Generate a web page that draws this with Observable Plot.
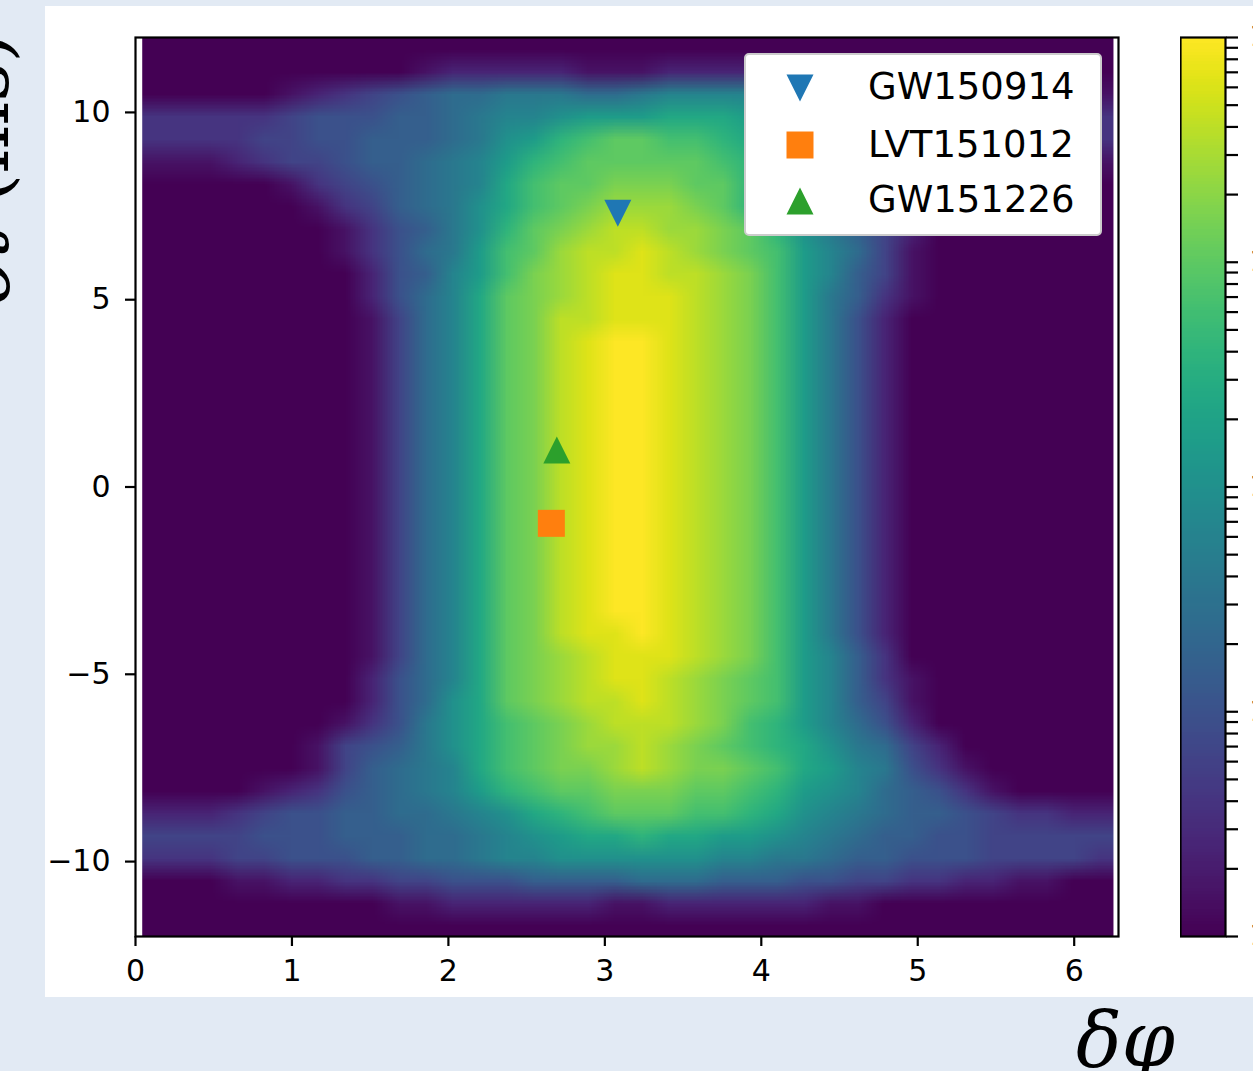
<!DOCTYPE html>
<html>
<head>
<meta charset="utf-8">
<script src="https://cdn.jsdelivr.net/npm/d3@7"></script>
<script src="https://cdn.jsdelivr.net/npm/@observablehq/plot@0.6"></script>
<style>
  html, body { margin: 0; padding: 0; }
  body { width: 1253px; height: 1071px; overflow: hidden; background: #e2eaf4; position: relative; }
  #fig { position: absolute; left: 45px; top: 6px; width: 1208px; height: 991px; background: #fff; overflow: hidden; }
  #main, #cbar { position: absolute; top: 0; }
  #main { left: 0; width: 1208px; }
  #cbar { left: 1135px; width: 118px; }
  #fig svg { max-width: none !important; }
  #legend { position: absolute; left: 699px; top: 47px; width: 358px; height: 183px; box-sizing: border-box;
            border: 2px solid #cccccc; border-radius: 5px; background: #fff; }
  #labels { position: absolute; left: 0; top: 0; pointer-events: none; }
</style>
</head>
<body>
<div id="fig"><div id="main"></div><div id="cbar"></div><div id="legend"></div></div>
<svg id="labels" width="1253" height="1071"></svg>
<script>
// ---------------- data ----------------
// Heat-map grid (36 columns in δφ × 40 rows in δt, top row = δt 12 ms).
// Each character is a level 0..20 (base 36); density = 10^(-4 + level/5).
const gridWidth = 36;
const gridHeight = 40;
const phiExtent = [0.043, 6.251];
const dtExtent = [12, -12];
const levelRows = [
  "000000000000000000000000000000000000",
  "000000000012222211122222210000000000",
  "000001234567788877899998765432100001",
  "333334555667899abbbcccb9876554443333",
  "3333445566678abdeffeedca876655444333",
  "1112344566789bdefffffedb987655432111",
  "0000013456789ceffgggffda876543100000",
  "000000134678acefghhhgfdb976431000000",
  "000000013568adfghiihhgfda86420000000",
  "000000013578befhiijihgfeb97410000000",
  "000000002569beghijjiihgeb96410000000",
  "000000002579cfghijjjihgeb86310000000",
  "000000001479cfgiijjjihgeb85200000000",
  "000000001479cfgijkkjihgeb85200000000",
  "000000001479cfgijkkjihgeb85200000000",
  "000000001479cfgijkkjihgeb85200000000",
  "000000001479cfgijkkjihgeb85200000000",
  "000000001479cfgijkkjihgeb85200000000",
  "000000001479cfgijkkjihgeb85200000000",
  "000000001479cfgijkkjihgeb85200000000",
  "000000001479cfgijkkjihgeb85200000000",
  "000000001479cfgijkkjihgeb85200000000",
  "000000001479cfgijkkjihgeb85200000000",
  "000000001479cfgijkkjihgeb85200000000",
  "000000001479cfgijkkjihgeb85200000000",
  "000000001479cfgijkkjihgeb85200000000",
  "000000001479cfgijjkjihgeb85200000000",
  "000000001479cfghijjjihgeb96300000000",
  "000000002579cfghijjihgfeb96310000000",
  "00000000257acfghiijihgfeb96410000000",
  "00000001358acefghiiihgedb97520000000",
  "00000014568acefghhihgfedca8742000000",
  "000000146789cefgghihggfecb9853100000",
  "000012356789bdeffgggffedba9765310000",
  "2223455667789acdefffeedca98766543322",
  "44445556667789abccdccbba987665544444",
  "333445556677899aaaaaa998876655544443",
  "000112233445556666777666554433221100",
  "000000000112222221122222211000000000",
  "000000000000000000000000000000000000"
];

const xTicks = [0, 1, 2, 3, 4, 5, 6];
const yTicks = [-10, -5, 0, 5, 10];

const eventNames = ["GW150914", "LVT151012", "GW151226"];
const eventPhi = [3.083, 2.658, 2.693];
const eventDt = [7.31, -0.97, 0.99];
const eventColors = ["#1f77b4", "#ff7f0e", "#2ca02c"];
const eventSymbols = ["triangle-down", "square", "triangle-up"];

const cbMajor = [1e-4, 1e-3, 1e-2, 1e-1, 1];
const cbMajorLabels = ["10\u207B\u2074", "10\u207B\u00B3", "10\u207B\u00B2", "10\u207B\u00B9", "10\u2070"];

// ---------------- build ----------------
const density = levelRows.flatMap(r => Array.from(r, c => 10 ** (-4 + parseInt(c, 36) / 5)));

const colorOpts = {type: "log", domain: [1e-4, 1], scheme: "viridis", clamp: true};

const triangleDown = {draw(ctx, size) { const r = Math.sqrt(size / Math.PI); ctx.moveTo(0, r); ctx.lineTo(-r, -r); ctx.lineTo(r, -r); ctx.closePath(); }};
const triangleUp = {draw(ctx, size) { const r = Math.sqrt(size / Math.PI); ctx.moveTo(0, -r); ctx.lineTo(-r, r); ctx.lineTo(r, r); ctx.closePath(); }};
const squareSym = {draw(ctx, size) { const r = Math.sqrt(size / Math.PI); ctx.rect(-r, -r, 2 * r, 2 * r); }};
const symbolMap = {"triangle-down": triangleDown, "square": squareSym, "triangle-up": triangleUp};

const events = eventNames.map((name, i) => ({name, phi: eventPhi[i], dt: eventDt[i], color: eventColors[i], symbol: eventSymbols[i]}));

const minusFmt = d => (d < 0 ? "\u2212" + Math.abs(d) : String(d));

const main = Plot.plot({
  width: 1208, height: 991,
  marginLeft: 90, marginRight: 135, marginTop: 31, marginBottom: 61,
  style: {fontFamily: "DejaVu Sans", color: "black", background: "transparent", maxWidth: "none"},
  x: {domain: [0, 2 * Math.PI]},
  y: {domain: [-12, 12]},
  color: colorOpts,
  marks: [
    Plot.raster(density, {width: gridWidth, height: gridHeight,
      x1: phiExtent[0], x2: phiExtent[1], y1: dtExtent[0], y2: dtExtent[1], fill: d => d}),
    ...events.map(e => Plot.dot([e], {x: "phi", y: "dt", r: 13.5, fill: e.color, stroke: "none", symbol: symbolMap[e.symbol]})),
    Plot.frame({stroke: "black", strokeWidth: 2.2}),
    Plot.axisX({ticks: xTicks, tickSize: 10, tickPadding: 13, fontSize: 30, strokeWidth: 2.2, label: null, tickFormat: d => String(d)}),
    Plot.axisY({ticks: yTicks, tickSize: 10, tickPadding: 15, fontSize: 30, strokeWidth: 2.2, label: null, tickFormat: minusFmt})
  ]
});
document.getElementById("main").appendChild(main);

// colour bar
const cbStops = d3.range(300).map(i => ({lo: 10 ** (-4 + 4 * i / 300), hi: 10 ** (-4 + 4 * (i + 1) / 300)}));
const cbTicks = d3.range(-4, 0).flatMap(e => d3.range(1, 10).map(k => k * 10 ** e)).concat([1]);
const cbFmt = d => {
  const i = cbMajor.findIndex(m => Math.abs(Math.log10(d) - Math.log10(m)) < 1e-9);
  return i >= 0 ? cbMajorLabels[i] : "";
};
const cbar = Plot.plot({
  width: 118, height: 991,
  marginLeft: 0, marginRight: 73, marginTop: 31, marginBottom: 61,
  style: {fontFamily: "DejaVu Sans", color: "black", background: "transparent", maxWidth: "none"},
  x: {domain: [0, 1], axis: null},
  y: {type: "log", domain: [1e-4, 1]},
  color: colorOpts,
  marks: [
    Plot.rect(cbStops, {x1: 0, x2: 1, y1: "lo", y2: "hi", fill: d => Math.sqrt(d.lo * d.hi), shapeRendering: "crispEdges"}),
    Plot.frame({stroke: "black", strokeWidth: 2.2}),
    Plot.axisY({anchor: "right", ticks: cbTicks, tickFormat: cbFmt, tickSize: 12, tickPadding: 12, fontSize: 28, strokeWidth: 2.2, label: null})
  ]
});
document.getElementById("cbar").appendChild(cbar);

// legend
const legendRowY = [33, 90, 146];
const legendBase = [44, 102, 157];
const legendSvg = d3.create("svg").attr("width", 354).attr("height", 179);
events.forEach((e, i) => {
  const p = d3.path();
  symbolMap[e.symbol].draw(p, Math.PI * 13.5 * 13.5);
  legendSvg.append("path").attr("d", p.toString()).attr("fill", e.color)
    .attr("transform", `translate(54,${legendRowY[i]})`);
  legendSvg.append("text").attr("x", 122).attr("y", legendBase[i])
    .attr("font-family", "DejaVu Sans").attr("font-size", 37).attr("fill", "black").text(e.name);
});
document.getElementById("legend").appendChild(legendSvg.node());

// outer axis labels (page elements)
const labels = d3.select("#labels");
labels.append("text").attr("x", 1076).attr("y", 1066)
  .attr("font-family", "DejaVu Serif").attr("font-style", "italic").attr("font-size", 76).attr("fill", "black")
  .text("δφ");
const yl = labels.append("text").attr("transform", "translate(8,33) rotate(-90)").attr("text-anchor", "end")
  .attr("font-family", "DejaVu Serif").attr("font-size", 76).attr("fill", "black");
yl.append("tspan").attr("font-style", "italic").text("δt");
yl.append("tspan").text(" (ms)");
</script>
</body>
</html>
